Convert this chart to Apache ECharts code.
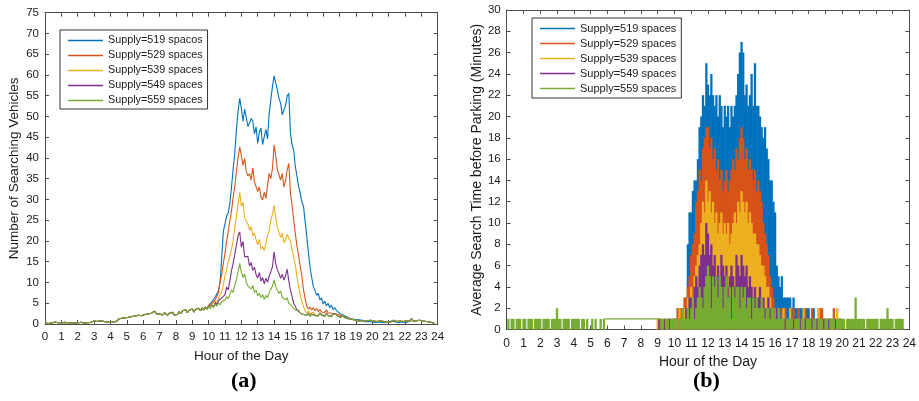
<!DOCTYPE html>
<html>
<head>
<meta charset="utf-8">
<script src="https://cdn.jsdelivr.net/npm/echarts/dist/echarts.min.js"></script>
<style>
  html, body { margin: 0; padding: 0; background: #fff; }
  #chart { width: 919px; height: 401px; }
</style>
</head>
<body>
<div id="chart"></div>
<script>
// ---- sampling: one value every 6 minutes (0.1 h) ----
const hourStep = 0.1;

// ---- (a) number of searching vehicles ----
const supplyNamesA = ['Supply=519 spacos', 'Supply=529 spaces', 'Supply=539 spaces', 'Supply=549 spaces', 'Supply=559 spaces'];
// quiet hours are the same for every supply level
const quietAmStart = 0.0;   // 0.0 .. 9.4
const searchQuietAM = [
  0.2,0.3,0.1,0.4,0.2,0.3,0.5,0.2,0.3,0.1,
  0.3,0.2,0.4,0.1,0.3,0.5,0.2,0.3,0.2,0.4,
  0.3,0.1,0.4,0.3,0.2,0.5,0.3,0.6,0.4,0.5,
  0.7,0.4,0.6,0.3,0.8,0.5,0.6,0.9,0.5,0.7,
  0.6,0.9,0.5,0.8,0.7,1.2,0.9,1.4,1.1,1.5,
  1.2,1.6,1.3,1.8,1.5,1.9,1.6,2.1,1.7,2.0,
  1.8,2.3,1.9,2.4,2.1,2.6,2.3,3.1,2.5,2.9,
  2.4,2.8,2.2,2.7,2.5,2.1,2.6,2.3,2.8,2.2,
  2.6,2.3,3.0,2.5,3.2,2.8,3.4,2.7,3.3,3.0,
  3.6,2.9,3.5,3.1,3.8
];
const busyStart = 9.5;      // 9.5 .. 19.0
const search519 = [
  3.2,3.9,3.4,4.1,3.6,
  4.5,4.2,5.3,5.0,6.5,7.2,8.1,10.0,16.0,22.3,
  24.1,26.0,26.8,29.2,33.0,37.4,41.2,47.0,51.3,54.4,
  52.0,48.8,51.8,52.2,47.6,48.4,49.5,48.9,45.8,47.5,
  43.5,46.2,47.2,43.2,45.1,46.9,44.6,50.8,54.0,57.2,
  59.8,58.1,56.4,54.3,53.2,50.4,50.8,52.6,54.9,55.6,
  46.0,43.2,41.8,37.9,35.6,33.1,31.5,29.4,28.3,24.6,
  21.0,17.2,13.8,11.2,9.0,8.1,6.9,7.4,5.8,6.3,
  4.8,5.5,4.4,5.0,3.9,4.6,3.5,4.0,3.3,3.6,
  2.6,2.9,2.2,2.5,1.8,1.9,1.4,1.6,1.2,1.3,
  1.1
];
const search529 = [
  3.2,3.9,3.4,4.1,3.6,
  4.4,4.0,5.0,4.6,5.8,5.5,7.5,10.2,12.0,14.6,
  17.1,19.8,22.4,25.0,27.3,30.6,33.2,36.8,40.1,42.7,
  40.5,38.2,39.9,36.7,35.7,36.2,34.7,37.6,34.3,34.3,
  31.9,33.0,30.5,29.9,31.8,30.2,33.4,36.3,35.0,37.4,
  43.1,40.6,37.2,36.0,34.7,36.3,33.0,34.5,37.1,38.7,
  31.5,28.6,25.0,21.8,18.7,16.5,13.8,11.5,8.2,6.1,
  4.2,3.6,4.1,3.4,3.9,3.2,3.7,3.0,3.5,2.9,
  3.3,2.8,3.4,2.7,3.1,2.6,2.9,2.4,2.7,2.3,
  2.4,2.0,2.1,1.7,1.9,1.4,1.6,1.2,1.4,1.0,
  1.1
];
const search539 = [
  3.2,3.9,3.4,4.1,3.6,
  4.3,3.9,4.8,4.4,5.5,5.0,6.2,6.0,7.8,9.4,
  11.6,13.2,15.0,16.3,18.0,20.2,23.4,26.0,29.0,31.8,
  28.4,29.3,25.6,24.8,24.1,22.6,23.5,21.2,21.9,20.3,
  19.1,20.4,18.0,18.6,17.7,19.5,21.3,22.4,25.0,26.4,
  28.6,25.8,23.4,22.0,20.8,21.9,19.6,20.2,21.6,21.9,
  19.8,17.9,16.1,14.2,11.3,9.0,7.1,5.3,4.2,3.2,
  2.6,3.1,2.4,2.8,2.9,2.2,2.6,2.1,2.7,2.2,
  2.4,1.9,2.6,2.1,2.3,1.8,2.5,2.1,2.4,1.9,
  2.2,1.7,2.2,1.6,1.9,1.3,1.6,1.2,1.4,1.0,
  1.1
];
const search549 = [
  3.2,3.9,3.4,4.1,3.6,
  4.2,3.8,4.6,4.1,5.2,4.7,5.6,5.2,6.3,6.0,
  7.1,8.9,8.2,10.4,12.9,14.6,16.8,19.0,21.3,22.2,
  18.5,19.9,16.2,16.2,16.3,14.0,14.8,12.9,13.7,11.9,
  11.1,12.4,10.3,11.2,9.7,11.0,10.1,11.5,12.6,13.8,
  17.4,14.6,13.1,12.2,11.0,12.0,10.6,11.6,13.2,10.4,
  8.2,6.6,5.0,4.2,3.4,3.1,2.6,2.9,2.3,2.6,
  2.1,2.6,1.9,2.4,2.8,2.1,2.5,2.0,2.7,2.2,
  2.4,1.9,2.6,2.1,2.3,1.8,2.5,2.1,2.4,1.9,
  2.2,1.7,2.2,1.6,1.9,1.3,1.6,1.2,1.4,1.0,
  1.1
];
const search559 = [
  3.2,3.9,3.4,4.1,3.6,
  4.2,3.7,4.5,3.9,4.8,4.3,5.1,4.6,5.4,5.0,
  5.8,6.6,6.1,7.2,8.2,7.6,9.4,10.8,12.6,14.6,
  12.5,11.2,12.1,10.0,9.2,9.0,8.4,9.3,7.6,8.2,
  6.8,7.4,6.4,7.1,5.9,6.9,6.3,7.5,8.4,9.1,
  10.6,9.0,8.1,7.4,7.9,6.5,6.9,5.8,6.3,5.0,
  4.6,4.2,3.8,3.3,2.9,3.4,2.6,3.0,2.3,2.7,
  2.0,2.5,1.8,2.3,2.7,2.0,2.4,1.9,2.6,2.1,
  2.3,1.8,2.5,2.0,2.2,1.7,2.4,2.0,2.3,1.8,
  2.1,1.6,2.2,1.5,1.9,1.3,1.6,1.2,1.4,1.0,
  1.1
];
const quietPmStart = 19.1;  // 19.1 .. 23.8
const searchQuietPM = [
  0.8,1.0,0.6,0.9,0.7,0.5,0.8,0.6,0.9,
  0.5,0.7,0.4,0.6,0.5,0.8,0.4,0.6,0.3,0.5,
  0.6,0.4,0.7,0.9,0.5,0.6,0.4,0.7,0.5,0.6,
  0.4,0.8,0.5,0.6,1.3,0.7,0.5,0.8,0.6,0.9,
  0.5,0.7,0.4,0.6,0.3,0.5,0.2,0.3,0.1
];

// ---- (b) average search time before parking (minutes) ----
const supplyNamesB = ['Supply=519 spaces', 'Supply=529 spaces', 'Supply=539 spaces', 'Supply=549 spaces', 'Supply=559 spaces'];
const waitFullStart = 0.0;  // 0.0 .. 23.9
const wait559 = [
  0,1,0,1,1,0,1,1,1,0,
  1,1,0,1,1,1,0,1,1,1,
  1,0,1,1,1,1,0,1,1,1,
  2,1,1,0,1,1,1,1,0,1,
  1,1,1,1,0,1,1,0,1,0,
  0,1,0,1,0,0,1,0,1,0,
  0,0,0,0,0,0,0,0,0,0,
  0,0,0,0,0,0,0,0,0,0,
  0,0,0,0,0,0,0,0,0,0,
  0,0,1,1,0,1,1,0,1,1,
  1,1,0,1,1,2,1,1,2,1,
  2,3,1,2,3,4,3,2,4,5,
  6,5,2,5,4,5,3,5,4,2,
  4,5,3,4,1,4,3,4,4,2,
  4,3,4,2,3,3,1,3,2,3,
  2,2,3,2,1,2,2,1,2,2,
  1,1,2,1,1,1,0,1,1,1,
  1,0,1,1,1,0,1,1,0,1,
  1,1,0,1,1,0,1,1,1,0,
  1,1,0,1,1,1,0,1,1,1,
  1,1,0,1,1,1,1,1,3,1,
  1,1,1,1,0,1,1,1,1,1,
  1,1,0,1,1,1,1,2,1,1,
  1,0,1,1,1,1,1,0,0,0
];
// stretch with no new search: level holds at 1 minute
const idleSpan559 = [[5.85, 1], [9.15, 1]];
const waitBusyStart = 9.0;  // 9.0 .. 19.9
const wait519 = [
  0,0,0,0,0,1,1,1,1,1,
  1,1,2,2,2,2,2,3,8,11,
  11,13,14,14,16,19,20,22,21,25,
  23,22,24,22,21,22,20,22,21,19,
  21,20,21,19,21,20,21,22,24,26,
  27,26,22,23,21,22,24,21,25,21,
  21,20,19,18,19,17,16,14,14,12,
  11,6,5,4,5,3,3,3,3,3,
  2,3,2,2,2,2,2,2,2,2,
  2,1,1,2,1,1,1,1,1,1,
  1,1,1,1,1,1,1,1,1,1
];
const wait529 = [
  0,0,1,0,0,1,1,1,0,1,
  1,1,2,2,2,2,3,3,4,5,
  7,8,9,12,13,15,14,17,18,19,
  19,17,18,16,17,15,16,14,15,13,
  14,15,13,14,15,16,15,17,16,18,
  19,18,16,17,15,16,15,14,15,13,
  14,13,12,10,9,8,7,5,4,3,
  2,2,2,1,2,1,2,1,1,2,
  1,2,1,1,2,1,1,1,2,1,
  1,1,2,1,1,1,2,2,2,1,
  1,1,1,1,1,2,1,1,1,1
];
const wait539 = [
  1,0,0,1,0,1,1,0,1,1,
  1,1,1,2,1,2,2,2,3,3,
  4,3,5,6,7,8,10,12,11,14,
  12,13,11,12,10,11,9,10,11,9,
  10,9,10,8,9,10,11,10,12,11,
  13,12,11,12,10,11,10,9,9,8,
  8,7,6,6,5,4,4,3,2,2,
  2,1,2,1,1,2,1,1,1,2,
  1,1,1,1,1,1,1,2,1,1,
  1,1,1,1,1,1,2,1,1,1,
  1,1,1,1,1,1,1,2,1,1
];
const wait549 = [
  0,1,1,0,1,1,0,1,0,1,
  1,1,0,1,1,2,1,2,2,3,
  3,2,4,5,4,6,7,8,7,10,
  9,7,8,6,7,5,6,5,7,6,
  5,6,4,5,6,5,4,7,6,5,
  7,6,5,6,4,5,4,3,4,3,
  3,4,2,3,2,2,3,2,1,2,
  1,2,1,1,1,1,1,1,1,1,
  1,1,1,1,0,1,1,1,1,0,
  1,1,1,0,1,1,1,1,0,1,
  1,0,1,1,0,1,1,0,1,1
];

const hourTicks = [0, 24, 1];     // min, max, interval
const vehicleTicks = [0, 75, 5];
const minuteTicks = [0, 30, 2];

// MATLAB default line colours
const palette = ['#0072BD', '#D95319', '#EDB120', '#7E2F8E', '#77AC30'];

// ---- helpers ----
const toPairs = (start, vals) => vals.map((v, i) => [Math.round((start + i * hourStep) * 100) / 100, v]);
const searchDay = peak => toPairs(quietAmStart, searchQuietAM)
  .concat(toPairs(busyStart, peak), toPairs(quietPmStart, searchQuietPM));

const FONT = 'Liberation Sans, Arial, sans-serif';
const INK = '#1a1a1a';
const FRAME = '#4d4d4d';

function boxAxis(gridIndex, range, opts) {
  const base = {
    gridIndex,
    type: 'value',
    min: range[0], max: range[1], interval: range[2],
    axisLine: { show: true, onZero: false, lineStyle: { color: FRAME, width: 1 } },
    axisTick: { show: true, inside: true, length: 4, lineStyle: { color: FRAME } },
    splitLine: { show: false },
    axisLabel: { show: false }
  };
  return Object.assign(base, opts || {});
}
const tickLabel = (size, margin) => ({ show: true, color: INK, fontFamily: FONT, fontSize: size, margin });
const axisName = (size) => ({ color: INK, fontFamily: FONT, fontSize: size });

const legendBase = {
  orient: 'vertical',
  icon: 'rect',
  itemWidth: 35,
  itemHeight: 1.4,
  itemGap: 2,
  borderColor: '#333',
  borderWidth: 1,
  backgroundColor: '#fff',
  selectedMode: false,
  textStyle: { fontFamily: FONT, color: INK, fontSize: 10.8, lineHeight: 13 }
};

const lineSeries = [search519, search529, search539, search549, search559].map((vals, i) => ({
  name: supplyNamesA[i],
  type: 'line',
  xAxisIndex: 0, yAxisIndex: 0,
  data: searchDay(vals),
  symbol: 'none',
  color: palette[i],
  lineStyle: { width: 1.1, color: palette[i] },
  z: 2 + i
}));

const waitSets = [
  [wait519, waitBusyStart], [wait529, waitBusyStart], [wait539, waitBusyStart],
  [wait549, waitBusyStart], [wait559, waitFullStart]
];
const barSeries = waitSets.map(([vals, start], i) => ({
  name: supplyNamesB[i],
  type: 'bar',
  xAxisIndex: 2, yAxisIndex: 2,
  data: toPairs(start, vals),
  barWidth: 2.3,
  barGap: '-100%',
  color: palette[i],
  itemStyle: { color: palette[i] },
  z: 2 + i
}));
const idleLine = {
  name: supplyNamesB[4],
  type: 'line',
  xAxisIndex: 2, yAxisIndex: 2,
  data: idleSpan559,
  symbol: 'none',
  color: palette[4],
  lineStyle: { width: 1.2, color: palette[4] },
  z: 8
};

const chart = echarts.init(document.getElementById('chart'), null, { renderer: 'canvas' });
chart.setOption({
  animation: false,
  backgroundColor: '#fff',
  grid: [
    { left: 45, top: 12.7, width: 392.7, height: 311.3 },
    { left: 506.7, top: 10, width: 402.6, height: 319.5 }
  ],
  xAxis: [
    boxAxis(0, hourTicks, {
      position: 'bottom', axisLabel: tickLabel(11.5, 7),
      name: 'Hour of the Day', nameLocation: 'middle', nameGap: 25, nameTextStyle: axisName(13.5)
    }),
    boxAxis(0, hourTicks, { position: 'top' }),
    boxAxis(1, hourTicks, {
      position: 'bottom', axisLabel: tickLabel(12, 8),
      name: 'Hour of the Day', nameLocation: 'middle', nameGap: 26, nameTextStyle: axisName(14)
    }),
    boxAxis(1, hourTicks, { position: 'top' })
  ],
  yAxis: [
    boxAxis(0, vehicleTicks, {
      position: 'left', axisLabel: tickLabel(11.5, 6),
      name: 'Number of Searching Vehicles', nameLocation: 'middle', nameGap: 23.5, nameTextStyle: axisName(13.5)
    }),
    boxAxis(0, vehicleTicks, { position: 'right' }),
    boxAxis(1, minuteTicks, {
      position: 'left', axisLabel: tickLabel(11.5, 6),
      name: 'Average Search Time before Parking (Minutes)', nameLocation: 'middle', nameGap: 23, nameTextStyle: axisName(14)
    }),
    boxAxis(1, minuteTicks, { position: 'right' })
  ],
  legend: [
    Object.assign({}, legendBase, { data: supplyNamesA, left: 60, top: 30, padding: [4, 5, 2, 8] }),
    Object.assign({}, legendBase, {
      data: supplyNamesB, left: 532, top: 18, padding: [4, 5, 3, 8],
      textStyle: Object.assign({}, legendBase.textStyle, { fontSize: 11 })
    })
  ],
  graphic: [
    { type: 'text', left: 231, top: 370, style: { text: '(a)', font: 'bold 22px "Liberation Serif", "Times New Roman", serif', fill: '#000' } },
    { type: 'text', left: 693, top: 370, style: { text: '(b)', font: 'bold 22px "Liberation Serif", "Times New Roman", serif', fill: '#000' } }
  ],
  series: lineSeries.concat(barSeries, [idleLine])
});
</script>
</body>
</html>
